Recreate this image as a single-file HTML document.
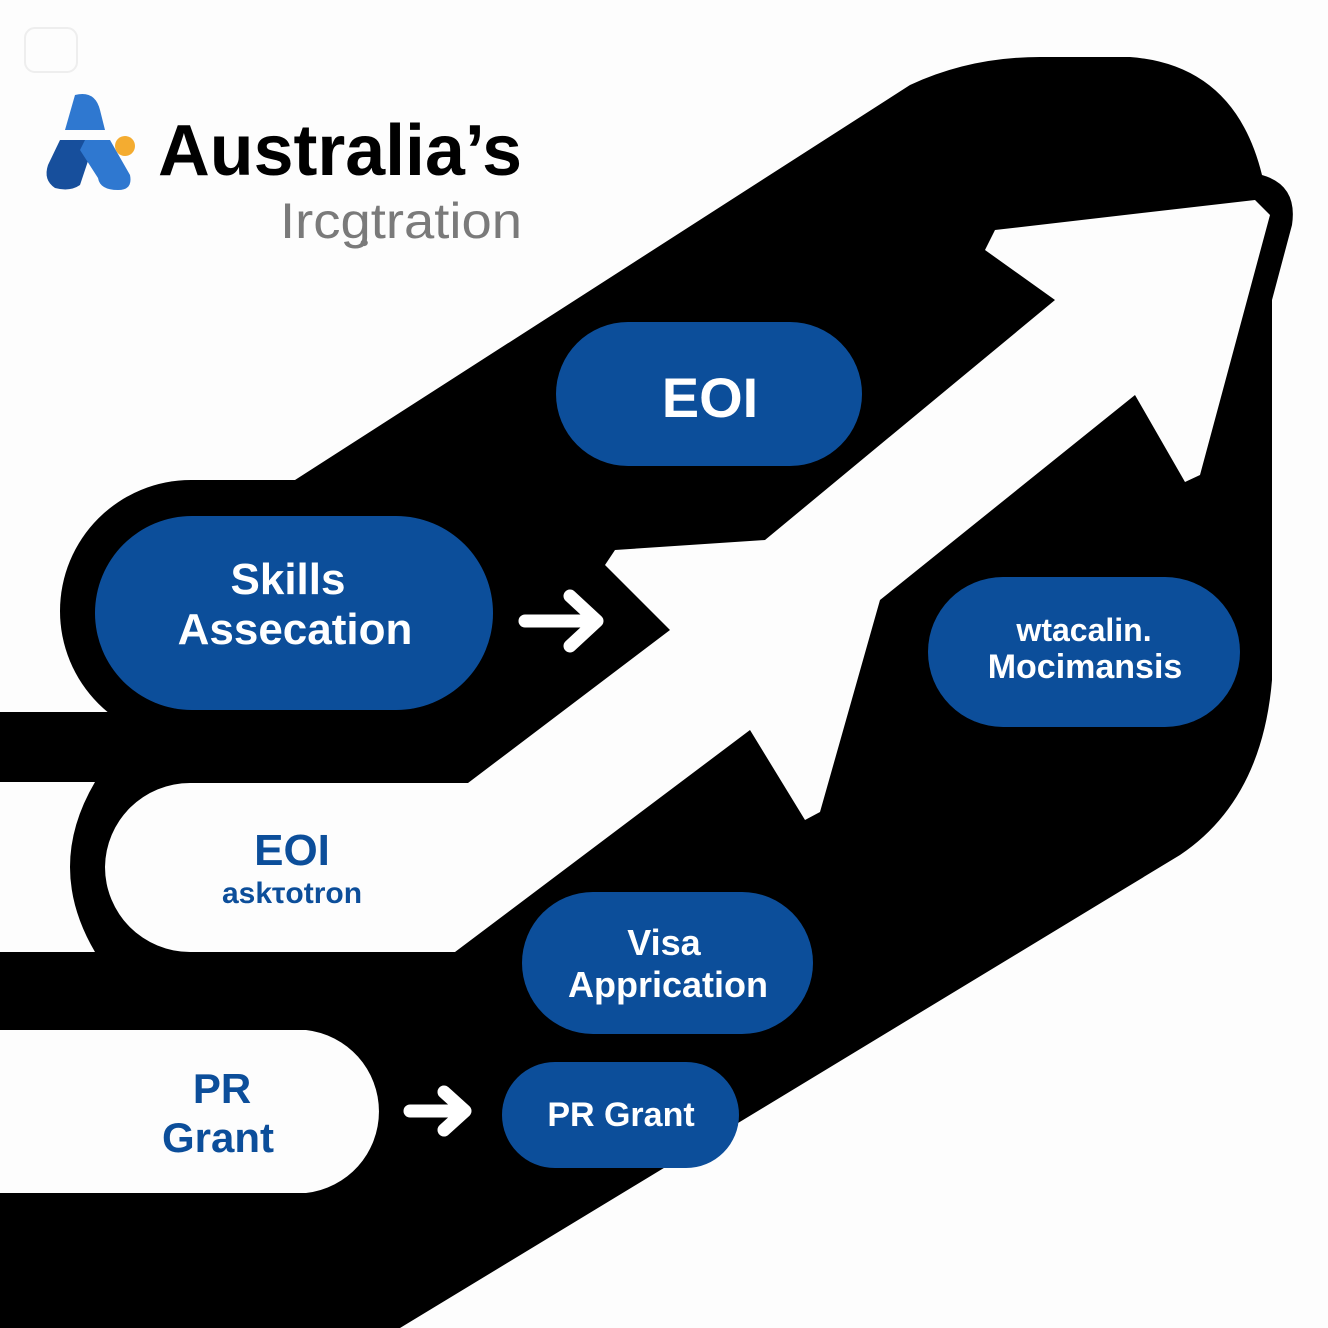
<!DOCTYPE html>
<html><head><meta charset="utf-8"><style>html,body{margin:0;padding:0;background:#fff}svg{display:block}</style></head>
<body>
<svg width="1328" height="1328" viewBox="0 0 1328 1328" xmlns="http://www.w3.org/2000/svg" font-family="Liberation Sans, sans-serif" font-weight="bold">
<rect width="1328" height="1328" fill="#fdfdfd"/>
<rect x="25" y="28" width="52" height="44" rx="10" fill="none" stroke="#eee" stroke-width="2"/>
<!-- black main -->
<path d="M0 712 L220 712 L220 480 L295 480 L910 85 Q970 57 1040 57 L1130 57 Q1235 65 1262 175 Q1298 185 1292 225 L1272 300 L1272 680 Q1262 800 1180 855 L400 1328 L0 1328 Z" fill="#000"/>
<rect x="60" y="480" width="460" height="262" rx="131" fill="#000"/>
<!-- white cutouts -->
<path d="M0 782 L95 782 Q45 867 95 952 L0 952 Z" fill="#fdfdfd"/>
<path d="M190 783 L468 783 L670 630 L605 565 L615 550 L765 540 L1055 300 L985 250 L995 230 L1255 200 L1270 215 L1200 475 L1185 482 L1135 395 L880 600 L820 812 L805 820 L750 730 L455 952 L190 952 A85 85 0 0 1 105 867 A85 85 0 0 1 190 783 Z" fill="#fdfdfd"/>
<path d="M0 1030 L306 1030 A82 82 0 0 1 306 1193 L0 1193 Z" fill="#fdfdfd"/>
<!-- blue pills -->
<g fill="#0c4e9a">
<rect x="556" y="322" width="306" height="144" rx="72"/>
<rect x="95" y="516" width="398" height="194" rx="97"/>
<rect x="928" y="577" width="312" height="150" rx="75"/>
<rect x="522" y="892" width="291" height="142" rx="71"/>
<rect x="502" y="1062" width="237" height="106" rx="53"/>
</g>
<!-- small arrows -->
<g stroke="#fff" stroke-width="13" stroke-linecap="round" stroke-linejoin="round" fill="none">
<path d="M525 621 L592 621 M570 596 L597 621 L570 646"/>
<path d="M410 1111 L462 1111 M444 1092 L465 1111 L444 1130"/>
</g>
<!-- logo -->
<path d="M75 95 Q95 90 100 110 L105 130 L65 130 Z" fill="#2f78d0"/>
<path d="M60 140 L95 140 L80 185 Q70 192 55 188 Q43 180 48 165 Z" fill="#174f9c"/>
<path d="M85 140 L110 140 L130 175 Q133 190 118 190 Q100 190 98 178 L80 150 Z" fill="#2f78d0"/>
<circle cx="125" cy="146" r="10" fill="#f4ac30"/>
<text x="158" y="175" font-size="72" fill="#000" textLength="364" lengthAdjust="spacingAndGlyphs">Australia’s</text>
<text x="280" y="238" font-size="50" font-weight="normal" fill="#7a7a7a" textLength="242" lengthAdjust="spacingAndGlyphs">Ircgฺtration</text>
<!-- pill texts -->
<g fill="#fff" text-anchor="middle">
<text x="710" y="417" font-size="56">EOI</text>
<text x="288" y="594" font-size="44">Skills</text>
<text x="295" y="644" font-size="44">Assecation</text>
<text x="1084" y="641" font-size="32">wtacalin.</text>
<text x="1085" y="678" font-size="34">Mocimansis</text>
<text x="664" y="955" font-size="36">Visa</text>
<text x="668" y="997" font-size="36">Apprication</text>
<text x="621" y="1126" font-size="34">PR Grant</text>
</g>
<g fill="#0c4e9a" text-anchor="middle">
<text x="292" y="865" font-size="44">EOI</text>
<text x="292" y="903" font-size="30">askτotron</text>
<text x="222" y="1103" font-size="42">PR</text>
<text x="218" y="1152" font-size="42">Grant</text>
</g>
</svg>
</body></html>
